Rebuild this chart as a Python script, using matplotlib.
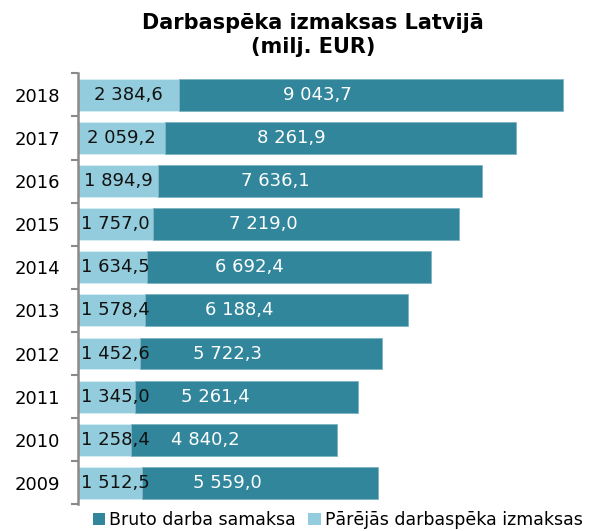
import matplotlib.pyplot as plt
from matplotlib.patches import Patch

# Data: labour costs in Latvia, million EUR #

YEARS = ["2009", "2010", "2011", "2012", "2013", "2014", "2015", "2016", "2017", "2018"]
OTHER_COSTS = [1512.5, 1258.4, 1345.0, 1452.6, 1578.4, 1634.5, 1757.0, 1894.9, 2059.2, 2384.6]
GROSS_WAGES = [5559.0, 4840.2, 5261.4, 5722.3, 6188.4, 6692.4, 7219.0, 7636.1, 8261.9, 9043.7]

TITLE = "Darbaspēka izmaksas Latvijā\n(milj. EUR)"
LABEL_GROSS = "Bruto darba samaksa"
LABEL_OTHER = "Pārējās darbaspēka izmaksas"

DARK = "#31869b"
LIGHT = "#93cddd"
AXIS_GREY = "#8a8a8a"


def fmt(v):
    # 2384.6 -> "2 384,6"
    return f"{v:,.1f}".replace(",", " ").replace(".", ",")


def main():
    plt.rcParams["font.family"] = "DejaVu Sans"

    fig = plt.figure(figsize=(6.11, 5.31), dpi=100)
    ax = fig.add_axes([78 / 611, 0.05, 1 - 78 / 611, 0.812])

    y = list(range(len(YEARS)))

# Stacked bars #

    ax.barh(y, OTHER_COSTS, height=0.74, color=LIGHT, edgecolor="#d8eef3", linewidth=0.6)
    ax.barh(y, GROSS_WAGES, left=OTHER_COSTS, height=0.74, color=DARK,
            edgecolor="#7fb3c2", linewidth=0.6)

# Value labels #

    for i, (o, g) in enumerate(zip(OTHER_COSTS, GROSS_WAGES)):
        ax.text(max(o / 2, 880), i, fmt(o), ha="center", va="center", fontsize=13, color="#111111")
        ax.text(o + g * 0.36, i, fmt(g), ha="center", va="center", fontsize=13, color="white")

# Axes styling #

    ax.set_xlim(0, 12560)
    ax.set_ylim(-0.5, len(YEARS) - 0.5)
    ax.set_xticks([])
    ax.set_yticks(y)
    ax.set_yticklabels(YEARS, fontsize=13)
    ax.set_yticks([v - 0.5 for v in range(len(YEARS) + 1)], minor=True)
    ax.tick_params(axis="y", which="major", length=0, pad=13)
    ax.tick_params(axis="y", which="minor", length=5, width=1.5, color=AXIS_GREY, direction="out")

    for side in ["top", "right", "bottom"]:
        ax.spines[side].set_visible(False)
    ax.spines["left"].set_color(AXIS_GREY)
    ax.spines["left"].set_linewidth(1.8)

    fig.text(0.512, 0.934, TITLE, ha="center", va="center", fontsize=15,
             fontweight="bold", linespacing=1.25)

# Legend #

    handles = [Patch(facecolor=DARK, label=LABEL_GROSS), Patch(facecolor=LIGHT, label=LABEL_OTHER)]
    fig.legend(handles=handles, loc="center left", bbox_to_anchor=(0.138, 0.02), ncol=2,
               frameon=False, fontsize=12.5, borderpad=0, handlelength=0.7, handleheight=0.7,
               handletextpad=0.25, columnspacing=0.7)

    fig.savefig("out.png", dpi=100)


if __name__ == "__main__":
    main()
